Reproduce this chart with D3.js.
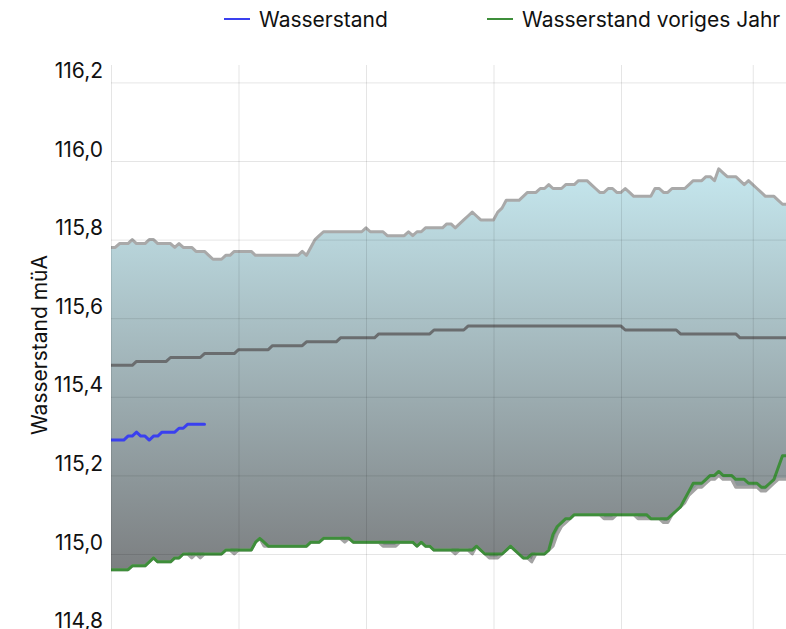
<!DOCTYPE html>
<html><head><meta charset="utf-8">
<script src="https://cdn.jsdelivr.net/npm/d3@7"></script>
<style>html,body{margin:0;padding:0;background:#fff;overflow:hidden}</style>
</head><body>
<svg id="chart" width="786" height="629"></svg>
<script>
// ---------- data ----------
const yTicks = [114.8, 115.0, 115.2, 115.4, 115.6, 115.8, 116.0, 116.2];
const xGridDays = [0, 30, 60, 90, 120, 151];
const seriesNames = ["Wasserstand", "Wasserstand voriges Jahr"];
const yTitle = "Wasserstand müA";

// current year (Wasserstand), one value per day
const current = [
115.29,115.29,115.29,115.29,115.30,115.30,115.31,115.30,115.30,115.29,
115.30,115.30,115.31,115.31,115.31,115.31,115.32,115.32,115.33,115.33,
115.33,115.33,115.33];

// previous year (Wasserstand voriges Jahr)
const previousYear = [
114.96,114.96,114.96,114.96,114.96,114.97,114.97,114.97,114.97,114.98,
114.99,114.98,114.98,114.98,114.98,114.99,114.99,115.00,115.00,115.00,
115.00,115.00,115.00,115.00,115.00,115.00,115.00,115.01,115.01,115.01,
115.01,115.01,115.01,115.01,115.03,115.04,115.03,115.02,115.02,115.02,
115.02,115.02,115.02,115.02,115.02,115.02,115.02,115.03,115.03,115.03,
115.04,115.04,115.04,115.04,115.04,115.04,115.04,115.03,115.03,115.03,
115.03,115.03,115.03,115.03,115.03,115.03,115.03,115.03,115.03,115.03,
115.03,115.03,115.02,115.03,115.02,115.02,115.01,115.01,115.01,115.01,
115.01,115.01,115.01,115.01,115.01,115.01,115.02,115.01,115.00,115.00,
115.00,115.00,115.00,115.01,115.02,115.01,115.00,114.99,114.99,115.00,
115.00,115.00,115.00,115.01,115.05,115.07,115.08,115.09,115.09,115.10,
115.10,115.10,115.10,115.10,115.10,115.10,115.10,115.10,115.10,115.10,
115.10,115.10,115.10,115.10,115.10,115.10,115.10,115.09,115.09,115.09,
115.09,115.09,115.10,115.11,115.12,115.14,115.16,115.18,115.18,115.18,
115.19,115.20,115.20,115.21,115.20,115.20,115.20,115.19,115.19,115.19,
115.18,115.18,115.18,115.17,115.17,115.18,115.19,115.22,115.25,115.25];

// historical maximum
const maxLevel = [
115.78,115.78,115.79,115.79,115.79,115.80,115.79,115.79,115.79,115.80,
115.80,115.79,115.79,115.79,115.79,115.78,115.79,115.78,115.78,115.78,
115.77,115.77,115.77,115.76,115.75,115.75,115.75,115.76,115.76,115.77,
115.77,115.77,115.77,115.77,115.76,115.76,115.76,115.76,115.76,115.76,
115.76,115.76,115.76,115.76,115.76,115.77,115.76,115.78,115.80,115.81,
115.82,115.82,115.82,115.82,115.82,115.82,115.82,115.82,115.82,115.82,
115.83,115.82,115.82,115.82,115.82,115.81,115.81,115.81,115.81,115.81,
115.82,115.81,115.82,115.82,115.83,115.83,115.83,115.83,115.83,115.84,
115.84,115.83,115.84,115.85,115.86,115.87,115.86,115.85,115.85,115.85,
115.85,115.87,115.88,115.90,115.90,115.90,115.90,115.91,115.92,115.92,
115.92,115.93,115.93,115.94,115.93,115.93,115.93,115.94,115.94,115.94,
115.95,115.95,115.95,115.94,115.93,115.92,115.92,115.93,115.93,115.92,
115.92,115.93,115.92,115.91,115.91,115.91,115.91,115.91,115.93,115.93,
115.92,115.92,115.93,115.93,115.93,115.93,115.94,115.95,115.95,115.95,
115.96,115.96,115.95,115.98,115.97,115.96,115.96,115.96,115.95,115.94,
115.95,115.94,115.93,115.92,115.91,115.91,115.91,115.90,115.89,115.89];

// historical minimum
const minLevel = [
114.96,114.96,114.96,114.96,114.96,114.97,114.97,114.97,114.97,114.98,
114.99,114.98,114.98,114.98,114.98,114.99,114.99,115.00,115.00,114.99,
115.00,114.99,115.00,115.00,115.00,115.00,115.00,115.01,115.01,115.00,
115.01,115.01,115.01,115.01,115.03,115.04,115.02,115.02,115.02,115.02,
115.02,115.02,115.02,115.02,115.02,115.02,115.02,115.03,115.03,115.03,
115.04,115.04,115.04,115.04,115.04,115.03,115.04,115.03,115.03,115.03,
115.03,115.03,115.03,115.03,115.02,115.02,115.02,115.02,115.03,115.03,
115.03,115.03,115.02,115.03,115.02,115.02,115.01,115.01,115.01,115.01,
115.01,115.00,115.01,115.01,115.01,115.00,115.02,115.01,115.00,114.99,
114.99,114.99,115.00,115.01,115.02,115.01,115.00,114.99,114.99,114.98,
115.00,115.00,115.00,115.01,115.02,115.05,115.07,115.08,115.09,115.10,
115.10,115.10,115.10,115.10,115.10,115.10,115.09,115.09,115.09,115.10,
115.10,115.10,115.10,115.10,115.09,115.09,115.09,115.09,115.09,115.09,
115.08,115.08,115.10,115.11,115.12,115.13,115.15,115.16,115.17,115.17,
115.18,115.19,115.19,115.20,115.19,115.19,115.19,115.17,115.17,115.17,
115.17,115.17,115.17,115.16,115.16,115.17,115.18,115.19,115.19,115.19];

// historical mean
const meanLevel = [
115.48,115.48,115.48,115.48,115.48,115.48,115.49,115.49,115.49,115.49,
115.49,115.49,115.49,115.49,115.50,115.50,115.50,115.50,115.50,115.50,
115.50,115.50,115.51,115.51,115.51,115.51,115.51,115.51,115.51,115.51,
115.52,115.52,115.52,115.52,115.52,115.52,115.52,115.52,115.53,115.53,
115.53,115.53,115.53,115.53,115.53,115.53,115.54,115.54,115.54,115.54,
115.54,115.54,115.54,115.54,115.55,115.55,115.55,115.55,115.55,115.55,
115.55,115.55,115.55,115.56,115.56,115.56,115.56,115.56,115.56,115.56,
115.56,115.56,115.56,115.56,115.56,115.56,115.57,115.57,115.57,115.57,
115.57,115.57,115.57,115.57,115.58,115.58,115.58,115.58,115.58,115.58,
115.58,115.58,115.58,115.58,115.58,115.58,115.58,115.58,115.58,115.58,
115.58,115.58,115.58,115.58,115.58,115.58,115.58,115.58,115.58,115.58,
115.58,115.58,115.58,115.58,115.58,115.58,115.58,115.58,115.58,115.58,
115.58,115.57,115.57,115.57,115.57,115.57,115.57,115.57,115.57,115.57,
115.57,115.57,115.57,115.57,115.56,115.56,115.56,115.56,115.56,115.56,
115.56,115.56,115.56,115.56,115.56,115.56,115.56,115.56,115.55,115.55,
115.55,115.55,115.55,115.55,115.55,115.55,115.55,115.55,115.55,115.55];

// ---------- chart ----------
const W = 786, H = 629;
const plot = {left: 111, top: 65, right: 786, bottom: 629};
const FONT = "Inter, 'Liberation Sans', Arial, sans-serif";

const nDays = maxLevel.length;
const x = d3.scaleLinear().domain([0, nDays - 1]).range([111, 111 + (nDays - 1) * 4.25]);
const y = d3.scaleLinear().domain([114.8, 116.2]).range([632.6, 82.4]);

const svg = d3.select("#chart");
const defs = svg.append("defs");
defs.append("clipPath").attr("id", "clip").append("rect")
  .attr("x", plot.left).attr("y", plot.top)
  .attr("width", plot.right - plot.left).attr("height", plot.bottom - plot.top);

const grad = defs.append("linearGradient").attr("id", "band")
  .attr("gradientUnits", "userSpaceOnUse")
  .attr("x1", 0).attr("x2", 0).attr("y1", y(115.98)).attr("y2", y(114.96));
grad.append("stop").attr("offset", "0%").attr("stop-color", "#c5e7ee");
grad.append("stop").attr("offset", "100%").attr("stop-color", "#7c7f81");

const g = svg.append("g").attr("clip-path", "url(#clip)");

// band between min and max
const area = d3.area()
  .x((d, i) => x(i))
  .y0((d, i) => y(minLevel[i]))
  .y1(d => y(d));
g.append("path").datum(maxLevel).attr("d", area).attr("fill", "url(#band)");

// grid (drawn over the band, translucent)
const hGrid = d3.axisLeft(y).tickValues(yTicks).tickSize(-(plot.right - plot.left)).tickFormat("");
const hg = svg.append("g").attr("transform", `translate(${plot.left},0)`).call(hGrid);
hg.select(".domain").remove();
hg.selectAll("line").attr("stroke", "rgba(0,0,0,0.1)").attr("stroke-width", 1);

const vGrid = d3.axisBottom(x).tickValues(xGridDays).tickSize(-(plot.bottom - plot.top)).tickFormat("");
const vg = svg.append("g").attr("transform", `translate(0,${plot.bottom})`).call(vGrid);
vg.select(".domain").remove();
vg.selectAll("line").attr("stroke", "rgba(0,0,0,0.1)").attr("stroke-width", 1);

// lines
const line = d3.line().x((d, i) => x(i)).y(d => y(d));
function drawLine(data, color, width) {
  g.append("path").datum(data).attr("d", line)
    .attr("fill", "none").attr("stroke", color).attr("stroke-width", width)
    .attr("stroke-linejoin", "round").attr("stroke-linecap", "round");
}
drawLine(maxLevel, "#a9a9a9", 3);
drawLine(minLevel, "#a3a3a3", 3);
drawLine(meanLevel, "#6a6d6f", 3);
drawLine(previousYear, "#3e8e3a", 3);
drawLine(current, "#3a40ef", 3);

// y axis labels
const fmt = d => d3.format(".1f")(d).replace(".", ",");
const yAxis = d3.axisLeft(y).tickValues(yTicks).tickSize(0).tickPadding(0).tickFormat(fmt);
const ya = svg.append("g").attr("transform", `translate(103,0)`).call(yAxis);
ya.select(".domain").remove();
ya.selectAll("text").attr("dy", "-5").attr("dominant-baseline", "auto")
  .attr("font-family", FONT).attr("font-size", 21).attr("fill", "#111");

// axis title
svg.append("text").attr("transform", "translate(47,345) rotate(-90)")
  .attr("text-anchor", "middle").attr("font-family", FONT).attr("font-size", 21)
  .attr("fill", "#111").text(yTitle);

// legend
const legendColors = ["#3a40ef", "#3e8e3a"];
const legendX = [224, 487];
seriesNames.forEach((name, i) => {
  svg.append("line").attr("x1", legendX[i]).attr("x2", legendX[i] + 26)
    .attr("y1", 19).attr("y2", 19).attr("stroke", legendColors[i]).attr("stroke-width", 2);
  svg.append("text").attr("x", legendX[i] + 35).attr("y", 26.5)
    .attr("font-family", FONT).attr("font-size", 21).attr("fill", "#111").text(name);
});
</script>
</body></html>
